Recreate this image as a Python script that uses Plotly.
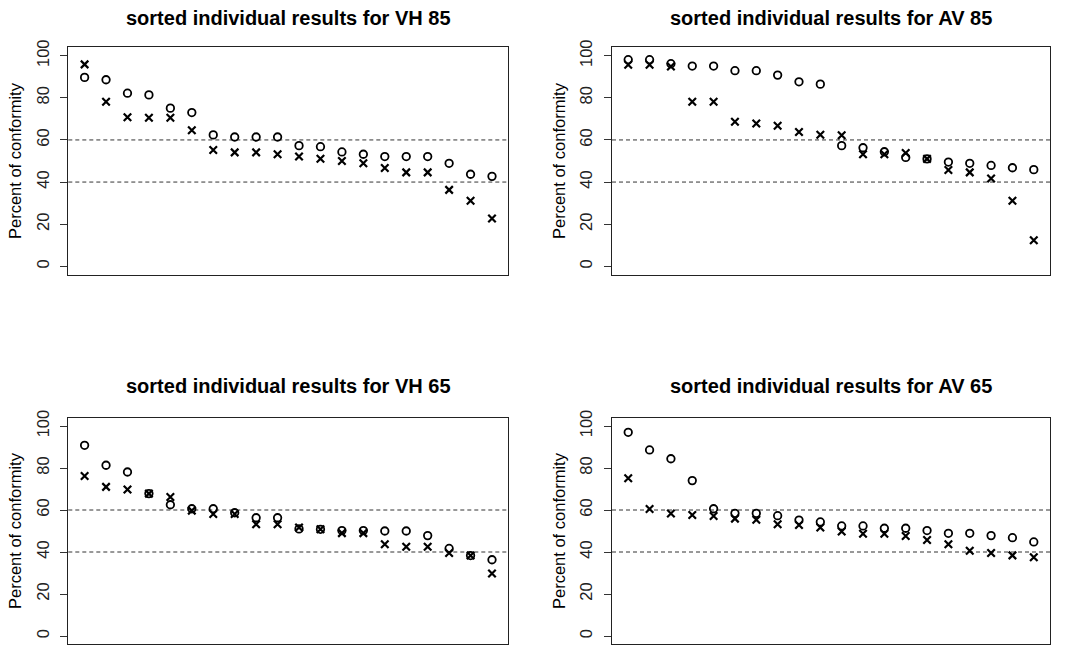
import plotly.graph_objects as go

# ---- data ----
positions = list(range(1, 21))

titles = ["sorted individual results for VH 85", "sorted individual results for AV 85",
          "sorted individual results for VH 65", "sorted individual results for AV 65"]

vh85_circle = [89.7, 88.6, 82.2, 81.4, 75.1, 73.0, 62.4, 61.4, 61.4, 61.4,
               57.3, 56.8, 54.3, 53.2, 52.1, 52.1, 52.1, 48.9, 43.7, 42.7]
vh85_cross = [95.9, 78.1, 70.8, 70.5, 70.5, 64.6, 55.2, 54.1, 54.1, 53.2,
              52.1, 51.1, 50.0, 48.9, 46.7, 44.6, 44.6, 36.3, 31.1, 22.7]

av85_circle = [98.1, 98.1, 96.2, 95.1, 95.1, 92.9, 92.9, 90.8, 87.6, 86.5,
               57.3, 56.3, 54.4, 51.7, 51.0, 49.5, 48.9, 47.9, 46.8, 45.9]
av85_cross = [95.7, 95.7, 94.9, 78.1, 78.1, 68.6, 67.8, 66.7, 63.8, 62.5,
              62.2, 53.2, 53.2, 53.8, 51.0, 45.7, 44.6, 41.7, 31.1, 12.4]

vh65_circle = [90.8, 81.3, 78.1, 67.8, 62.5, 60.6, 60.6, 58.7, 56.3, 56.3,
               51.0, 50.8, 50.2, 50.2, 50.0, 50.0, 47.8, 41.7, 38.3, 36.3]
vh65_cross = [76.2, 71.0, 69.8, 67.8, 66.2, 59.7, 58.1, 58.1, 53.2, 53.2,
              51.7, 50.8, 49.0, 49.0, 43.7, 42.5, 42.5, 39.5, 38.3, 29.8]

av65_circle = [97.0, 88.6, 84.4, 74.0, 60.6, 58.4, 58.4, 57.3, 55.2, 54.3,
               52.4, 52.4, 51.3, 51.3, 50.2, 48.9, 48.9, 47.8, 46.8, 44.8]
av65_cross = [75.1, 60.5, 58.3, 57.6, 57.1, 55.9, 55.4, 53.2, 52.9, 51.7,
              49.8, 48.7, 48.7, 47.6, 45.7, 43.7, 40.6, 39.5, 38.4, 37.5]

circles = [vh85_circle, av85_circle, vh65_circle, av65_circle]
crosses = [vh85_cross, av85_cross, vh65_cross, av65_cross]

ref_lines = [60, 40]
y_ticks = [0, 20, 40, 60, 80, 100]
y_label = "Percent of conformity"

# ---- layout ----
W, H = 1066, 647
FONT = "Liberation Sans, Arial, Helvetica, sans-serif"
x_domains = [(68.3 / W, 508.3 / W), (612.0 / W, 1050.0 / W)]
y_domains = [(1 - 274.7 / H, 1 - 47.3 / H), (1 - 644.4 / H, 1 - 417.6 / H)]

fig = go.Figure()
shapes = []
annotations = []

for i in range(4):
    r, c = divmod(i, 2)
    n = i + 1
    xa = "x" if n == 1 else f"x{n}"
    ya = "y" if n == 1 else f"y{n}"
    fig.add_trace(go.Scatter(
        x=positions, y=circles[i], mode="markers", xaxis=xa, yaxis=ya,
        marker=dict(symbol="circle-open", size=7.5, color="black",
                    line=dict(width=1.8, color="black")),
        showlegend=False, hoverinfo="y"))
    fig.add_trace(go.Scatter(
        x=positions, y=crosses[i], mode="markers", xaxis=xa, yaxis=ya,
        marker=dict(symbol="x-thin-open", size=7.5, color="black",
                    line=dict(width=2.2, color="black")),
        showlegend=False, hoverinfo="y"))

    xkey = "xaxis" if n == 1 else f"xaxis{n}"
    ykey = "yaxis" if n == 1 else f"yaxis{n}"
    fig.layout[xkey] = dict(
        domain=x_domains[c], range=[0.24, 20.76], anchor=ya, automargin=False,
        showticklabels=False, ticks="", showgrid=False, zeroline=False,
        showline=True, linecolor="#222", linewidth=1, mirror=True)
    fig.layout[ykey] = dict(
        domain=y_domains[r], range=[-4, 104], anchor=xa, automargin=False,
        tickvals=y_ticks, ticks="outside", ticklen=7, tickwidth=1,
        tickcolor="#333", tickangle=-90, ticklabelstandoff=5,
        tickfont=dict(family=FONT, size=16.5, color="#222"),
        showgrid=False, zeroline=False,
        showline=True, linecolor="#222", linewidth=1, mirror=True)

    for v in ref_lines:
        shapes.append(dict(type="line", xref=f"{xa} domain", yref=ya,
                           x0=0, x1=1, y0=v, y1=v, layer="below",
                           line=dict(color="#333", width=1, dash="4px,3px")))

    x0, x1 = x_domains[c]
    y0, y1 = y_domains[r]
    annotations.append(dict(
        text="<b>" + titles[i] + "</b>", xref="paper", yref="paper",
        x=(x0 + x1) / 2, y=(1 - 18 / H) if r == 0 else (1 - 386 / H),
        xanchor="center", yanchor="middle", showarrow=False,
        font=dict(family=FONT, size=20, color="black")))
    annotations.append(dict(
        text=y_label, xref="paper", yref="paper",
        x=(15 / W) if c == 0 else (559 / W), y=(y0 + y1) / 2,
        xanchor="center", yanchor="middle", textangle=-90, showarrow=False,
        font=dict(family=FONT, size=16.5, color="black")))

fig.update_layout(
    width=W, height=H, margin=dict(l=0, r=0, t=0, b=0, autoexpand=False),
    paper_bgcolor="white", plot_bgcolor="white",
    shapes=shapes, annotations=annotations)

fig.write_html("out.html")
